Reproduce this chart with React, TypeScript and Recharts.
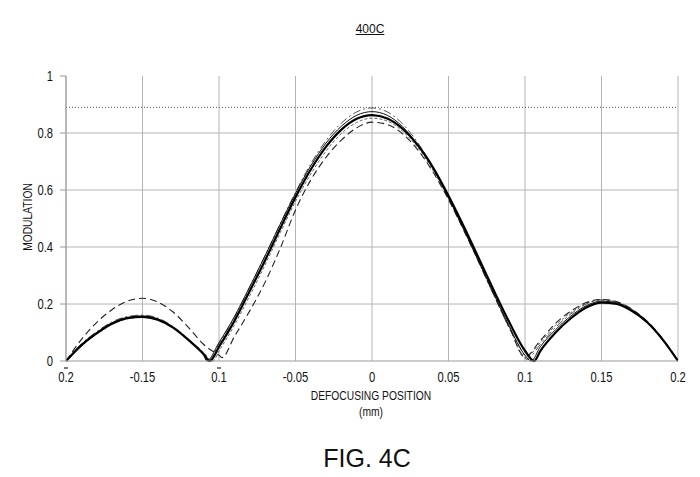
import React from "react";
import { LineChart, Line, XAxis, YAxis, CartesianGrid, ReferenceLine } from "recharts";

// defocusing positions (mm) shared by every curve
const POSITIONS = [
  -0.2, -0.19, -0.18, -0.17, -0.16, -0.15, -0.14, -0.13, -0.12, -0.11, -0.1, -0.09, -0.08, -0.07,
  -0.06, -0.05, -0.04, -0.03, -0.02, -0.01, 0, 0.01, 0.02, 0.03, 0.04, 0.05, 0.06, 0.07, 0.08,
  0.09, 0.1, 0.11, 0.12, 0.13, 0.14, 0.15, 0.16, 0.17, 0.18, 0.19, 0.2,
];

const thickSolid = [
  0, 0.055, 0.097, 0.131, 0.15, 0.155, 0.145, 0.117, 0.074, 0.024, 0.05, 0.14, 0.245, 0.352,
  0.465, 0.575, 0.672, 0.752, 0.812, 0.85, 0.863, 0.851, 0.815, 0.757, 0.678, 0.58, 0.472, 0.358,
  0.243, 0.133, 0.036, 0.035, 0.1, 0.15, 0.188, 0.205, 0.2, 0.175, 0.135, 0.075, 0,
];
const thinSolid = [
  0, 0.058, 0.1, 0.134, 0.153, 0.158, 0.148, 0.119, 0.075, 0.02, 0.065, 0.155, 0.26, 0.368, 0.48,
  0.588, 0.685, 0.765, 0.824, 0.862, 0.875, 0.862, 0.822, 0.758, 0.674, 0.572, 0.462, 0.347,
  0.231, 0.118, 0.02, 0.05, 0.11, 0.158, 0.194, 0.21, 0.204, 0.178, 0.137, 0.076, 0,
];
const longDash = [
  0, 0.075, 0.135, 0.18, 0.21, 0.22, 0.207, 0.172, 0.118, 0.058, 0.02, 0.085, 0.175, 0.275, 0.395,
  0.53, 0.635, 0.715, 0.775, 0.818, 0.838, 0.83, 0.797, 0.74, 0.662, 0.566, 0.458, 0.345, 0.228,
  0.115, 0.015, 0.072, 0.132, 0.175, 0.205, 0.216, 0.208, 0.181, 0.139, 0.078, 0,
];
const dashDot = [
  0, 0.06, 0.103, 0.137, 0.156, 0.161, 0.151, 0.121, 0.077, 0.022, 0.06, 0.152, 0.258, 0.368,
  0.482, 0.592, 0.692, 0.774, 0.835, 0.874, 0.888, 0.874, 0.832, 0.765, 0.678, 0.573, 0.46, 0.343,
  0.226, 0.112, 0.015, 0.058, 0.118, 0.165, 0.2, 0.215, 0.208, 0.181, 0.139, 0.078, 0,
];
const shortDash = [
  0, 0.052, 0.094, 0.128, 0.148, 0.153, 0.144, 0.117, 0.076, 0.03, 0.035, 0.125, 0.228, 0.336,
  0.45, 0.56, 0.656, 0.737, 0.798, 0.837, 0.852, 0.842, 0.806, 0.748, 0.668, 0.57, 0.462, 0.348,
  0.232, 0.118, 0.01, 0.066, 0.125, 0.17, 0.202, 0.214, 0.206, 0.18, 0.138, 0.077, 0,
];

// the minima between lobes, [position, modulation]
const thickSolidValleys = [[-0.106, 0], [0.106, 0]];
const thinSolidValleys = [[-0.108, 0], [0.104, 0]];
const longDashValleys = [[-0.098, 0.012]];
const dashDotValleys = [[-0.107, 0], [0.101, 0.005]];
const shortDashValleys = [[-0.104, 0]];

const X_TICKS = [-0.2, -0.15, -0.1, -0.05, 0, 0.05, 0.1, 0.15, 0.2];
const X_TICK_LABELS = ["0.2", "-0.15", "0.1", "-0.05", "0", "0.05", "0.1", "0.15", "0.2"];
const Y_TICKS = [0, 0.2, 0.4, 0.6, 0.8, 1];
const Y_GRID = [0.2, 0.4, 0.6, 0.8];
const TARGET_LEVEL = 0.89;

const FONT = "'Liberation Sans', Arial, sans-serif";
const SQUEEZE = 0.76; // the figure uses a narrow sans

const buildSeries = (values: number[], valleys: number[][]) =>
  POSITIONS.map((x, i) => ({ x, y: values[i] }))
    .concat(valleys.map(([x, y]) => ({ x, y })))
    .sort((a, b) => a.x - b.x);

const XTick = ({ x, y, payload }: any) => {
  const idx = X_TICKS.indexOf(payload.value);
  const label = idx >= 0 ? X_TICK_LABELS[idx] : String(payload.value);
  const dash = payload.value === -0.2 || payload.value === -0.1;
  return (
    <g>
      {dash && <line x1={x - 2} x2={x + 2} y1={y - 1} y2={y - 1} stroke="#222" strokeWidth={1.2} />}
      <text
        transform={`translate(${x},${y + 13}) scale(0.8,1)`}
        textAnchor="middle"
        fontSize={14}
        fill="#111"
        fontFamily={FONT}
      >
        {label}
      </text>
    </g>
  );
};

const YTick = ({ x, y, payload }: any) => (
  <text
    transform={`translate(${x - 5},${y + 5}) scale(0.8,1)`}
    textAnchor="end"
    fontSize={14}
    fill="#111"
    fontFamily={FONT}
  >
    {String(payload.value)}
  </text>
);

const narrow = { transform: `scaleX(${SQUEEZE})`, transformOrigin: "center" };

export default function App() {
  return (
    <div
      style={{
        position: "absolute",
        left: 0,
        top: 0,
        width: 700,
        height: 477,
        background: "#fff",
        fontFamily: FONT,
        color: "#111",
      }}
    >
      <div
        style={{
          position: "absolute",
          left: 320,
          width: 100,
          top: 22,
          textAlign: "center",
          fontSize: 12,
          lineHeight: "14px",
          textDecoration: "underline",
        }}
      >
        400C
      </div>

      <LineChart width={700} height={477} margin={{ top: 76, right: 22, bottom: 86, left: 20 }}>
        <CartesianGrid horizontal={false} stroke="#b4b4b4" />
        {Y_GRID.map((v) => (
          <ReferenceLine key={v} y={v} stroke="#b4b4b4" />
        ))}
        <ReferenceLine y={TARGET_LEVEL} stroke="#555" strokeDasharray="1 2" />
        <XAxis
          type="number"
          dataKey="x"
          domain={[-0.2, 0.2]}
          ticks={X_TICKS}
          allowDataOverflow
          height={30}
          stroke="#999"
          tickLine={false}
          tick={<XTick />}
        />
        <YAxis
          type="number"
          domain={[0, 1]}
          ticks={Y_TICKS}
          width={46}
          stroke="#999"
          tickSize={6}
          tick={<YTick />}
        />
        <Line data={buildSeries(shortDash, shortDashValleys)} dataKey="y" type="monotone" stroke="#666" strokeWidth={1} strokeDasharray="3 2" dot={false} isAnimationActive={false} />
        <Line data={buildSeries(dashDot, dashDotValleys)} dataKey="y" type="monotone" stroke="#555" strokeWidth={1} strokeDasharray="8 3 2 3" dot={false} isAnimationActive={false} />
        <Line data={buildSeries(longDash, longDashValleys)} dataKey="y" type="monotone" stroke="#222" strokeWidth={1.1} strokeDasharray="7 4" dot={false} isAnimationActive={false} />
        <Line data={buildSeries(thinSolid, thinSolidValleys)} dataKey="y" type="monotone" stroke="#111" strokeWidth={1} dot={false} isAnimationActive={false} />
        <Line data={buildSeries(thickSolid, thickSolidValleys)} dataKey="y" type="monotone" stroke="#000" strokeWidth={2.2} dot={false} isAnimationActive={false} />
      </LineChart>

      <div
        style={{
          position: "absolute",
          left: 27.5 - 60,
          top: 217 - 8,
          width: 120,
          height: 16,
          lineHeight: "16px",
          textAlign: "center",
          fontSize: 13.5,
          whiteSpace: "nowrap",
          transform: `rotate(-90deg) scaleX(${SQUEEZE})`,
          transformOrigin: "center",
        }}
      >
        MODULATION
      </div>
      <div
        style={{
          position: "absolute",
          left: 271,
          width: 200,
          top: 387.5,
          textAlign: "center",
          fontSize: 13.5,
          lineHeight: "16px",
          ...narrow,
        }}
      >
        DEFOCUSING POSITION
        <br />
        (mm)
      </div>
      <div
        style={{
          position: "absolute",
          left: 267,
          width: 200,
          top: 444,
          textAlign: "center",
          fontSize: 25,
        }}
      >
        FIG. 4C
      </div>
    </div>
  );
}
